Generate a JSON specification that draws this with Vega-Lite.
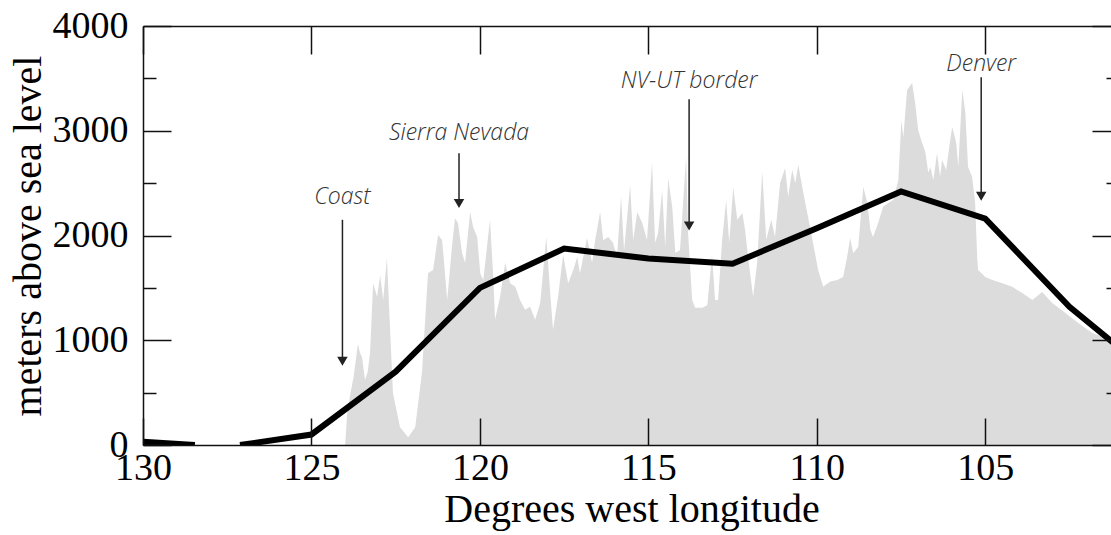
{
  "$schema": "https://vega.github.io/schema/vega-lite/v6.json",
  "width": 977,
  "height": 419,
  "autosize": {"type": "none"},
  "padding": {"left": 143, "top": 26, "right": -9, "bottom": 90},
  "background": "white",
  "config": {"view": {"stroke": null}},
  "datasets": {
    "profile": [
      {"lon": 124.00, "elev": 0}, {"lon": 123.94, "elev": 300}, {"lon": 123.85, "elev": 480}, {"lon": 123.75, "elev": 650},
      {"lon": 123.68, "elev": 820}, {"lon": 123.62, "elev": 965}, {"lon": 123.56, "elev": 880}, {"lon": 123.50, "elev": 840},
      {"lon": 123.41, "elev": 620}, {"lon": 123.33, "elev": 700}, {"lon": 123.26, "elev": 880}, {"lon": 123.17, "elev": 1545},
      {"lon": 123.05, "elev": 1415}, {"lon": 122.96, "elev": 1620}, {"lon": 122.87, "elev": 1385}, {"lon": 122.76, "elev": 1785},
      {"lon": 122.67, "elev": 1130}, {"lon": 122.58, "elev": 495}, {"lon": 122.37, "elev": 170}, {"lon": 122.13, "elev": 75},
      {"lon": 121.92, "elev": 170}, {"lon": 121.72, "elev": 690}, {"lon": 121.54, "elev": 1640}, {"lon": 121.39, "elev": 1670},
      {"lon": 121.24, "elev": 2005}, {"lon": 121.12, "elev": 1955}, {"lon": 120.97, "elev": 1385}, {"lon": 120.83, "elev": 1890},
      {"lon": 120.74, "elev": 2165}, {"lon": 120.65, "elev": 2120}, {"lon": 120.53, "elev": 1835}, {"lon": 120.44, "elev": 1740},
      {"lon": 120.29, "elev": 2225}, {"lon": 120.20, "elev": 2080}, {"lon": 120.08, "elev": 1985}, {"lon": 119.99, "elev": 1640},
      {"lon": 119.90, "elev": 1575}, {"lon": 119.79, "elev": 1890}, {"lon": 119.70, "elev": 2150}, {"lon": 119.61, "elev": 1640},
      {"lon": 119.55, "elev": 1195}, {"lon": 119.40, "elev": 1415}, {"lon": 119.25, "elev": 1740}, {"lon": 119.10, "elev": 1545},
      {"lon": 118.95, "elev": 1510}, {"lon": 118.81, "elev": 1385}, {"lon": 118.66, "elev": 1290}, {"lon": 118.51, "elev": 1320},
      {"lon": 118.36, "elev": 1195}, {"lon": 118.21, "elev": 1355}, {"lon": 118.03, "elev": 1985}, {"lon": 117.92, "elev": 1480},
      {"lon": 117.83, "elev": 1100}, {"lon": 117.68, "elev": 1415}, {"lon": 117.53, "elev": 1815}, {"lon": 117.38, "elev": 1545},
      {"lon": 117.23, "elev": 1670}, {"lon": 117.11, "elev": 1795}, {"lon": 117.03, "elev": 1640}, {"lon": 116.82, "elev": 1975},
      {"lon": 116.67, "elev": 1740}, {"lon": 116.58, "elev": 1955}, {"lon": 116.43, "elev": 2225}, {"lon": 116.34, "elev": 1955},
      {"lon": 116.19, "elev": 1985}, {"lon": 116.05, "elev": 1930}, {"lon": 115.93, "elev": 1795}, {"lon": 115.81, "elev": 2370},
      {"lon": 115.72, "elev": 1860}, {"lon": 115.54, "elev": 2480}, {"lon": 115.45, "elev": 1955}, {"lon": 115.33, "elev": 2225},
      {"lon": 115.18, "elev": 2120}, {"lon": 115.04, "elev": 1955}, {"lon": 114.89, "elev": 2700}, {"lon": 114.80, "elev": 1930},
      {"lon": 114.71, "elev": 2025}, {"lon": 114.59, "elev": 2435}, {"lon": 114.50, "elev": 1890}, {"lon": 114.41, "elev": 2550},
      {"lon": 114.29, "elev": 2270}, {"lon": 114.20, "elev": 1835}, {"lon": 114.06, "elev": 1860}, {"lon": 113.88, "elev": 2750},
      {"lon": 113.82, "elev": 2025}, {"lon": 113.70, "elev": 1385}, {"lon": 113.61, "elev": 1310}, {"lon": 113.40, "elev": 1310},
      {"lon": 113.25, "elev": 1335}, {"lon": 113.11, "elev": 1815}, {"lon": 113.02, "elev": 1385}, {"lon": 112.93, "elev": 1385},
      {"lon": 112.81, "elev": 1955}, {"lon": 112.69, "elev": 2340}, {"lon": 112.60, "elev": 1930}, {"lon": 112.48, "elev": 2460},
      {"lon": 112.36, "elev": 2150}, {"lon": 112.21, "elev": 2215}, {"lon": 112.13, "elev": 2055}, {"lon": 112.04, "elev": 1795},
      {"lon": 111.89, "elev": 1415}, {"lon": 111.77, "elev": 1740}, {"lon": 111.62, "elev": 2610}, {"lon": 111.50, "elev": 1960},
      {"lon": 111.35, "elev": 2150}, {"lon": 111.24, "elev": 1985}, {"lon": 111.09, "elev": 2500}, {"lon": 110.94, "elev": 2645},
      {"lon": 110.85, "elev": 2370}, {"lon": 110.73, "elev": 2625}, {"lon": 110.64, "elev": 2500}, {"lon": 110.55, "elev": 2675},
      {"lon": 110.40, "elev": 2405}, {"lon": 110.26, "elev": 2180}, {"lon": 110.11, "elev": 1925}, {"lon": 109.96, "elev": 1670},
      {"lon": 109.81, "elev": 1510}, {"lon": 109.60, "elev": 1560}, {"lon": 109.39, "elev": 1575}, {"lon": 109.22, "elev": 1605},
      {"lon": 109.10, "elev": 1795}, {"lon": 109.01, "elev": 1975}, {"lon": 108.92, "elev": 1830}, {"lon": 108.77, "elev": 1890},
      {"lon": 108.62, "elev": 2465}, {"lon": 108.50, "elev": 2310}, {"lon": 108.41, "elev": 2055}, {"lon": 108.33, "elev": 1985},
      {"lon": 108.18, "elev": 2120}, {"lon": 108.03, "elev": 2275}, {"lon": 107.88, "elev": 2310}, {"lon": 107.73, "elev": 2340},
      {"lon": 107.58, "elev": 2530}, {"lon": 107.49, "elev": 3100}, {"lon": 107.43, "elev": 2940}, {"lon": 107.32, "elev": 3390},
      {"lon": 107.17, "elev": 3455}, {"lon": 107.08, "elev": 3265}, {"lon": 106.99, "elev": 3005}, {"lon": 106.87, "elev": 2880},
      {"lon": 106.78, "elev": 2800}, {"lon": 106.69, "elev": 2600}, {"lon": 106.63, "elev": 2655}, {"lon": 106.54, "elev": 2530},
      {"lon": 106.43, "elev": 2785}, {"lon": 106.34, "elev": 2560}, {"lon": 106.28, "elev": 2720}, {"lon": 106.16, "elev": 2625},
      {"lon": 106.04, "elev": 2910}, {"lon": 105.98, "elev": 3035}, {"lon": 105.86, "elev": 2880}, {"lon": 105.80, "elev": 2655},
      {"lon": 105.68, "elev": 3390}, {"lon": 105.59, "elev": 3170}, {"lon": 105.51, "elev": 2655}, {"lon": 105.39, "elev": 2560},
      {"lon": 105.30, "elev": 2310}, {"lon": 105.24, "elev": 1795}, {"lon": 105.21, "elev": 1670}, {"lon": 105.00, "elev": 1605},
      {"lon": 104.79, "elev": 1575}, {"lon": 104.49, "elev": 1545}, {"lon": 104.20, "elev": 1510}, {"lon": 103.90, "elev": 1450},
      {"lon": 103.60, "elev": 1385}, {"lon": 103.31, "elev": 1460}, {"lon": 103.01, "elev": 1355}, {"lon": 102.62, "elev": 1260},
      {"lon": 102.24, "elev": 1165}, {"lon": 101.82, "elev": 1070}, {"lon": 101.53, "elev": 1035}, {"lon": 101.26, "elev": 1000},
      {"lon": 101.00, "elev": 970}
    ],
    "smooth": [
      {"seg": 1, "lon": 130, "elev": 30}, {"seg": 1, "lon": 128.46, "elev": 0},
      {"seg": 2, "lon": 127.12, "elev": 0}, {"seg": 2, "lon": 125, "elev": 100}, {"seg": 2, "lon": 122.5, "elev": 700},
      {"seg": 2, "lon": 120, "elev": 1500}, {"seg": 2, "lon": 117.5, "elev": 1875}, {"seg": 2, "lon": 115, "elev": 1780},
      {"seg": 2, "lon": 112.5, "elev": 1730}, {"seg": 2, "lon": 110, "elev": 2070}, {"seg": 2, "lon": 107.5, "elev": 2420},
      {"seg": 2, "lon": 105, "elev": 2160}, {"seg": 2, "lon": 102.5, "elev": 1320}, {"seg": 2, "lon": 100, "elev": 660}
    ],
    "notes": [
      {"label": "Coast", "lon": 124.08, "top": 2150, "tip": 745, "head": 800, "ty": 2305},
      {"label": "Sierra Nevada", "lon": 120.62, "top": 2785, "tip": 2250, "head": 2305, "ty": 2912},
      {"label": "NV-UT border", "lon": 113.79, "top": 3300, "tip": 2035, "head": 2090, "ty": 3410},
      {"label": "Denver", "lon": 105.12, "top": 3510, "tip": 2320, "head": 2375, "ty": 3575}
    ]
  },
  "resolve": {"axis": {"x": "independent", "y": "independent"}},
  "layer": [
    {
      "data": {"name": "profile"},
      "mark": {"type": "area", "color": "#dcdcdc", "clip": true, "interpolate": "linear"},
      "encoding": {
        "x": {
          "field": "lon", "type": "quantitative",
          "scale": {"domain": [101, 130], "reverse": true, "nice": false, "zero": false},
          "axis": {
            "orient": "bottom", "values": [130, 125, 120, 115, 110, 105], "format": "d",
            "tickSize": -27, "tickColor": "#111", "tickWidth": 1.5,
            "domain": true, "domainColor": "#111", "domainWidth": 1.5,
            "labelFont": "Liberation Serif", "labelFontSize": 38, "labelColor": "#000", "labelPadding": 31,
            "labelFlush": false, "labelOverlap": false,
            "title": "Degrees west longitude", "titleFont": "Liberation Serif", "titleFontSize": 40,
            "titleFontWeight": "normal", "titleColor": "#000", "titlePadding": 2,
            "grid": false, "zindex": 1
          }
        },
        "y": {
          "field": "elev", "type": "quantitative",
          "scale": {"domain": [0, 4000], "nice": false, "zero": true},
          "axis": {
            "orient": "left", "values": [0, 1000, 2000, 3000, 4000], "format": "d",
            "tickSize": -28, "tickColor": "#111", "tickWidth": 1.5,
            "domain": true, "domainColor": "#111", "domainWidth": 1.5,
            "labelFont": "Liberation Serif", "labelFontSize": 38, "labelColor": "#000", "labelPadding": 43,
            "labelFlush": false, "labelOverlap": false,
            "title": "meters above sea level", "titleFont": "Liberation Serif", "titleFontSize": 40,
            "titleFontWeight": "normal", "titleColor": "#000", "titlePadding": 4,
            "grid": false, "zindex": 1
          }
        }
      }
    },
    {
      "data": {"name": "smooth"},
      "mark": {"type": "line", "color": "#000", "strokeWidth": 6, "clip": true},
      "encoding": {
        "detail": {"field": "seg", "type": "nominal"},
        "x": {
          "field": "lon", "type": "quantitative",
          "scale": {"domain": [101, 130], "reverse": true, "nice": false, "zero": false},
          "axis": {
            "orient": "top", "values": [130, 125, 120, 115, 110, 105],
            "tickSize": -28, "tickColor": "#111", "tickWidth": 1.5,
            "domain": true, "domainColor": "#111", "domainWidth": 1.5,
            "labels": false, "title": null, "grid": false, "zindex": 1
          }
        },
        "y": {
          "field": "elev", "type": "quantitative",
          "scale": {"domain": [0, 4000], "nice": false, "zero": true},
          "axis": {
            "orient": "right", "values": [0, 1000, 2000, 3000, 4000],
            "tickSize": -28, "tickColor": "#111", "tickWidth": 1.5,
            "domain": true, "domainColor": "#111", "domainWidth": 1.5,
            "labels": false, "title": null, "grid": false, "zindex": 1
          }
        }
      }
    },
    {
      "data": {"name": "notes"},
      "mark": {"type": "rule", "color": "#222", "strokeWidth": 1.5},
      "encoding": {
        "x": {"field": "lon", "type": "quantitative", "axis": null,
              "scale": {"domain": [101, 130], "reverse": true, "nice": false, "zero": false}},
        "y": {
          "field": "top", "type": "quantitative",
          "scale": {"domain": [0, 4000], "nice": false, "zero": true},
          "axis": {
            "orient": "left", "values": [500, 1500, 2500, 3500],
            "tickSize": -13, "tickColor": "#111", "tickWidth": 1.5,
            "domain": false, "labels": false, "title": null, "grid": false, "zindex": 1
          }
        },
        "y2": {"field": "head"}
      }
    },
    {
      "data": {"name": "notes"},
      "mark": {"type": "point", "shape": "triangle-down", "filled": true, "color": "#222", "size": 110, "opacity": 1},
      "encoding": {
        "x": {"field": "lon", "type": "quantitative", "axis": null,
              "scale": {"domain": [101, 130], "reverse": true, "nice": false, "zero": false}},
        "y": {
          "field": "head", "type": "quantitative",
          "scale": {"domain": [0, 4000], "nice": false, "zero": true},
          "axis": {
            "orient": "right", "values": [500, 1500, 2500, 3500],
            "tickSize": -14, "tickColor": "#111", "tickWidth": 1.5,
            "domain": false, "labels": false, "title": null, "grid": false, "zindex": 1
          }
        }
      }
    },
    {
      "data": {"name": "notes"},
      "mark": {"type": "text", "font": "Open Sans", "fontStyle": "italic", "fontWeight": 300, "fontSize": 23, "color": "#333",
               "align": "center", "baseline": "alphabetic"},
      "encoding": {
        "x": {"field": "lon", "type": "quantitative", "axis": null,
              "scale": {"domain": [101, 130], "reverse": true, "nice": false, "zero": false}},
        "y": {"field": "ty", "type": "quantitative", "axis": null,
              "scale": {"domain": [0, 4000], "nice": false, "zero": true}},
        "text": {"field": "label", "type": "nominal"}
      }
    }
  ]
}
